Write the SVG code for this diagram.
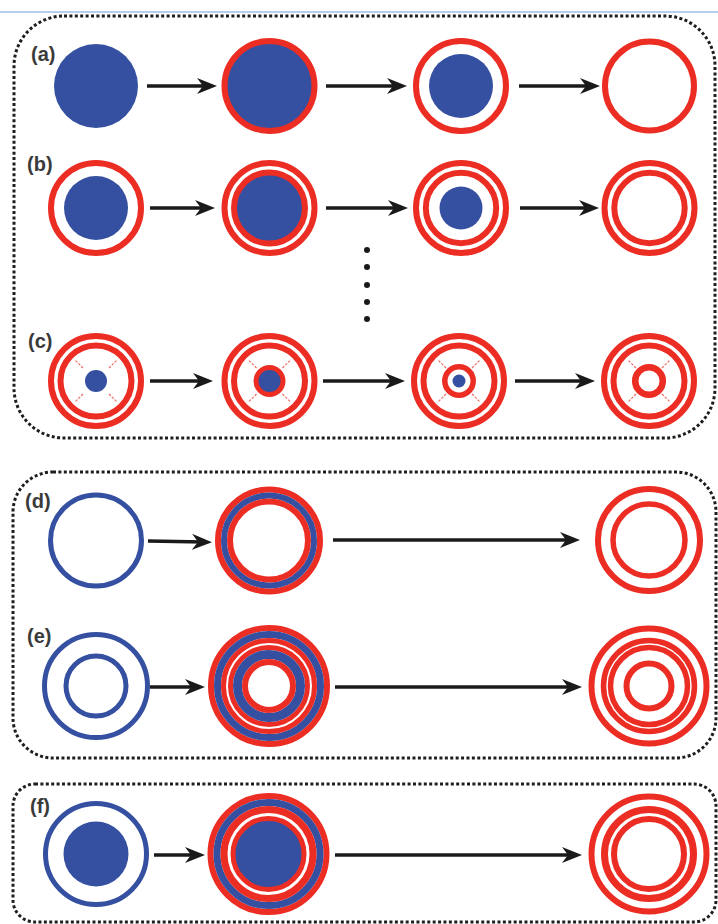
<svg xmlns="http://www.w3.org/2000/svg" width="718" height="924" viewBox="0 0 718 924">
<defs>
<marker id="ah" viewBox="0 0 20 16" refX="12" refY="8" markerWidth="20" markerHeight="16" markerUnits="userSpaceOnUse" orient="auto">
<path d="M0,0 L20,8 L0,16 L6,8 Z" fill="#1a1a1a"/>
</marker>
</defs>
<style>
.box{fill:none;stroke:#1e1e1e;stroke-width:3;stroke-dasharray:3 2.4}
.lbl{font-family:"Liberation Sans",Arial,sans-serif;font-weight:bold;font-size:20px;fill:#3a3a3a}
.r{fill:none;stroke:#ec2d24;stroke-width:6}
.rb{fill:#3550a0;stroke:#ec2d24;stroke-width:6}
.b{fill:none;stroke:#3550a0;stroke-width:6}
.bf{fill:#3550a0}
.mk{stroke:#ef6a62;stroke-width:1.2;stroke-dasharray:2.5 1.5}
.arr{stroke:#1a1a1a;stroke-width:3.5;marker-end:url(#ah)}
</style>
<rect width="718" height="924" fill="#fff"/>
<line x1="0" y1="12" x2="718" y2="12" stroke="#9cc0ea" stroke-width="1.5"/>
<g id="panels">
<rect class="box" x="14" y="16" width="701" height="422" rx="50" ry="50"/>
<rect class="box" x="13" y="472" width="703" height="286" rx="40" ry="40"/>
<rect class="box" x="13" y="784" width="703" height="138" rx="22" ry="22"/>
</g>
<g id="labels">
<text class="lbl" x="31" y="61">(a)</text>
<text class="lbl" x="27" y="171">(b)</text>
<text class="lbl" x="28" y="348">(c)</text>
<text class="lbl" x="25" y="508">(d)</text>
<text class="lbl" x="27" y="643">(e)</text>
<text class="lbl" x="30" y="813">(f)</text>
</g>
<g id="a1"><circle class="bf" cx="96" cy="86" r="42"/></g>
<g id="a2"><circle class="rb" cx="269.5" cy="86" r="45"/></g>
<g id="a3"><circle class="r" cx="461" cy="86" r="45"/><circle class="bf" cx="461" cy="86" r="32"/></g>
<g id="a4"><circle class="r" cx="649.5" cy="86" r="44.5"/></g>
<g id="b1"><circle class="r" cx="96" cy="208" r="45"/><circle class="bf" cx="96" cy="208" r="32"/></g>
<g id="b2"><circle class="r" cx="269.5" cy="208" r="45"/><circle class="rb" cx="269.5" cy="208" r="35.5"/></g>
<g id="b3"><circle class="r" cx="461" cy="208" r="45"/><circle class="r" cx="461" cy="208" r="35.2"/><circle class="bf" cx="461" cy="208" r="21.5"/></g>
<g id="b4"><circle class="r" cx="649.5" cy="208" r="45"/><circle class="r" cx="649.5" cy="208" r="35.2"/></g>
<g id="dots" fill="#1a1a1a">
<circle cx="367" cy="250" r="3"/><circle cx="367" cy="267" r="3"/><circle cx="367" cy="285" r="3"/><circle cx="367" cy="302" r="3"/><circle cx="367" cy="319" r="3"/>
</g>
<g id="c1"><circle class="r" cx="96" cy="381" r="45"/><circle class="r" cx="96" cy="381" r="35.5"/>
<path class="mk" d="M83,368 L75,360 M109,368 L117,360 M83,394 L75,402 M109,394 L117,402"/>
<circle class="bf" cx="96" cy="381" r="11"/></g>
<g id="c2"><circle class="r" cx="269.5" cy="381" r="45"/><circle class="r" cx="269.5" cy="381" r="35.5"/>
<path class="mk" d="M256.5,368 L248.5,360 M282.5,368 L290.5,360 M256.5,394 L248.5,402 M282.5,394 L290.5,402"/>
<circle class="rb" cx="269.5" cy="381" r="13.5" style="stroke-width:5"/></g>
<g id="c3"><circle class="r" cx="459" cy="381" r="45"/><circle class="r" cx="459" cy="381" r="35.5"/>
<path class="mk" d="M446,368 L438,360 M472,368 L480,360 M446,394 L438,402 M472,394 L480,402"/>
<circle class="r" cx="459" cy="381" r="14.2" style="stroke-width:5.5"/><circle class="bf" cx="459" cy="381" r="6.5"/></g>
<g id="c4"><circle class="r" cx="649" cy="381" r="45"/><circle class="r" cx="649" cy="381" r="35.5"/>
<path class="mk" d="M636,368 L628,360 M662,368 L670,360 M636,394 L628,402 M662,394 L670,402"/>
<circle class="r" cx="649" cy="381" r="13.8" style="stroke-width:6.5"/></g>
<g id="d1"><circle class="b" cx="96" cy="540.5" r="45.5" style="stroke-width:5"/></g>
<g id="d2"><circle class="r" cx="269" cy="540.5" r="51"/><circle class="b" cx="269" cy="540.5" r="45"/><circle class="r" cx="269" cy="540.5" r="39"/></g>
<g id="d3"><circle class="r" cx="649" cy="540" r="51"/><circle class="r" cx="649" cy="540" r="36" style="stroke-width:5.5"/></g>
<g id="e1"><circle class="b" cx="96" cy="686" r="51.5" style="stroke-width:5"/><circle class="b" cx="96" cy="686" r="30" style="stroke-width:5"/></g>
<g id="e2"><circle class="r" cx="269" cy="686" r="58"/><circle class="b" cx="269" cy="686" r="51.5" style="stroke-width:7"/><circle class="r" cx="269" cy="686" r="45.5" style="stroke-width:5"/><circle class="r" cx="269" cy="686" r="38.5" style="stroke-width:5"/><circle class="b" cx="269" cy="686" r="31.5" style="stroke-width:9"/><circle class="r" cx="269" cy="686" r="24" style="stroke-width:6"/></g>
<g id="e3"><circle class="r" cx="649" cy="686" r="57.5"/><circle class="r" cx="649" cy="686" r="45.5" style="stroke-width:5.5"/><circle class="r" cx="649" cy="686" r="38.5" style="stroke-width:5.5"/><circle class="r" cx="649" cy="686" r="22.5" style="stroke-width:6"/></g>
<g id="f1"><circle class="b" cx="96" cy="854" r="50.5" style="stroke-width:5"/><circle class="bf" cx="96" cy="854" r="32.5"/></g>
<g id="f2"><circle class="r" cx="268.5" cy="854" r="58"/><circle class="b" cx="268.5" cy="854" r="51.5" style="stroke-width:7"/><circle class="r" cx="268.5" cy="854" r="44.5" style="stroke-width:7"/><circle class="rb" cx="268.5" cy="854" r="35.5" style="stroke-width:5"/></g>
<g id="f3"><circle class="r" cx="649" cy="854" r="57.5"/><circle class="r" cx="649" cy="854" r="44.5" style="stroke-width:7"/><circle class="r" cx="649" cy="854" r="35" style="stroke-width:6"/></g>
<g id="connectors">
<line class="arr" x1="147" y1="86" x2="209" y2="86"/>
<line class="arr" x1="326" y1="86" x2="399" y2="86"/>
<line class="arr" x1="519" y1="86" x2="592" y2="86"/>
<line class="arr" x1="150" y1="208" x2="207" y2="208"/>
<line class="arr" x1="326" y1="208" x2="400" y2="208"/>
<line class="arr" x1="520" y1="208" x2="591" y2="208"/>
<line class="arr" x1="150" y1="381" x2="205" y2="381"/>
<line class="arr" x1="323" y1="381" x2="397" y2="381"/>
<line class="arr" x1="515" y1="381" x2="587" y2="381"/>
<line class="arr" x1="148" y1="541" x2="204" y2="542"/>
<line class="arr" x1="333" y1="540" x2="572" y2="540"/>
<line class="arr" x1="150" y1="687" x2="197" y2="687"/>
<line class="arr" x1="335" y1="687" x2="574" y2="687"/>
<line class="arr" x1="154" y1="855" x2="197" y2="855"/>
<line class="arr" x1="335" y1="855" x2="574" y2="855"/>
</g>
</svg>
